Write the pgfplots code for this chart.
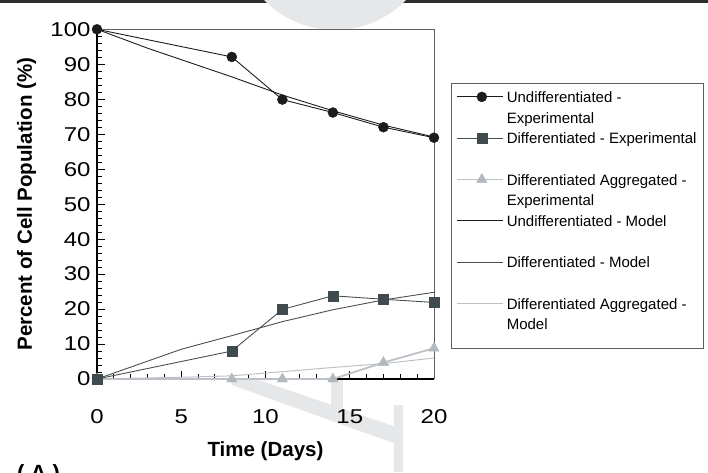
\documentclass[border=0pt]{standalone}
\usepackage{fontspec}
\setmainfont{Liberation Sans}
\newfontfamily\tickfont[FakeStretch=1.2]{Liberation Sans}
\usepackage{pgfplots}
\pgfplotsset{compat=1.18}

\definecolor{undiff}{HTML}{1C1C1C}
\definecolor{diffmk}{HTML}{3F4B4E}
\definecolor{diffln}{HTML}{4A4F51}
\definecolor{aggmk}{HTML}{B3B7BE}
\definecolor{aggln}{HTML}{BDC1C7}
\definecolor{frame}{HTML}{5E5E5E}
\definecolor{wmark}{HTML}{E6E7E9}
\definecolor{topbar}{HTML}{2E2E2E}

% struts giving every legend row the same height
\newcommand\lgs{\rule[-5pt]{0pt}{20.66pt}}
\newcommand\lgslast{\rule[-15pt]{0pt}{30.66pt}}

\begin{document}
\begin{tikzpicture}[x=1pt,y=1pt]
\useasboundingbox (0,0) rectangle (708,472);
\fill[topbar] (0,469) rectangle (708,472);

% faint background shapes
\fill[wmark] (335,541) circle (99);
\fill[wmark] (230,93) -- (256,93) -- (396,45) -- (396,28) -- (232,87) -- cycle;
\fill[wmark] (331,62) rectangle (343,93);
\fill[wmark] (394,0) rectangle (403,67);

\begin{axis}[
  at={(97pt,93pt)}, anchor=south west,
  scale only axis, width=337pt, height=349.7pt,
  xmin=0, xmax=20, ymin=0, ymax=100,
  clip=false,
  axis lines*=left,
  axis line style={black, line width=1.6pt},
  xtick={0,5,...,20}, ytick={0,10,...,100},
  minor x tick num=4, minor y tick num=4,
  tick align=inside,
  major tick length=8pt, minor tick length=5pt,
  tick style={black, line width=1pt},
  /pgf/number format/assume math mode=true,
  tick label style={font=\tickfont\fontsize{20}{22}\selectfont},
  xticklabel style={yshift=-27pt},
  yticklabel style={xshift=-3pt},
  xlabel={Time (Days)},
  ylabel={Percent of Cell Population (\%)},
  label style={font=\bfseries\fontsize{20.5}{24}\selectfont},
  xlabel style={at={(axis description cs:0.5,-0.2229)}, anchor=base},
  ylabel style={at={(axis description cs:-0.1929,0.5)}, anchor=base},
  legend cell align=left,
  legend style={
    at={(1.0504,0.8473)}, anchor=north west,
    draw=frame, line width=0.8pt, fill=white,
    font=\fontsize{15}{19}\selectfont,
    inner xsep=5pt, inner ysep=3.64pt,
    row sep=0pt, column sep=1.5pt,
    cells={anchor=base west},
    nodes={inner xsep=1.5pt, inner ysep=0pt, text depth=},
  },
  legend image code/.code={
    \path (0pt,5.5pt) -- (3.5pt,5.5pt);
    \draw[mark repeat=2,mark phase=2]
      plot coordinates {(3.5pt,5.5pt)(25pt,5.5pt)(46.5pt,5.5pt)};
  },
]

% upper and right frame lines
\draw[frame, line width=0.9pt] (rel axis cs:0,1) -- (rel axis cs:1,1) -- (rel axis cs:1,0);

% model curves
\addplot[forget plot, undiff, line width=0.9pt] coordinates {
  (0,100) (3,94.6) (8,86.4) (11,81.2) (14,76.7) (17,72.6) (20,69.2)};
\addplot[forget plot, diffln, line width=0.9pt] coordinates {
  (0,0) (5,8.5) (8,12.4) (11,16.4) (14,19.8) (17,22.6) (20,24.8)};
\addplot[forget plot, aggln, line width=1pt] coordinates {
  (0,0) (5,0.5) (8,0.9) (11,2.1) (14,3.3) (17,4.4) (20,6.0)};

% experimental data
\addplot[forget plot, aggln, line width=1.8pt, mark=triangle*, mark size=6pt,
  mark options={fill=aggmk, draw=aggmk, line width=0.4pt}] coordinates {
  (0,0) (8,0) (11,0) (14,0) (17,4.7) (20,8.8)};
\addplot[forget plot, diffln, line width=0.9pt, mark=square*, mark size=5pt,
  mark options={fill=diffmk, draw=diffmk, line width=0.4pt}] coordinates {
  (0,0) (8,8.0) (11,19.9) (14,23.8) (17,22.8) (20,21.9)};
\addplot[forget plot, undiff, line width=0.9pt, mark=*, mark size=5pt,
  mark options={fill=undiff, draw=undiff, line width=0.4pt}] coordinates {
  (0,100) (8,92.1) (11,79.9) (14,76.2) (17,72.0) (20,69.0)};

% legend rows
\addlegendimage{undiff, line width=0.9pt, mark=*, mark size=5pt,
  mark options={fill=undiff, draw=undiff, line width=0.4pt}}
\addlegendentry{\lgs Undifferentiated -}
\addlegendimage{empty legend}
\addlegendentry{\lgs Experimental}
\addlegendimage{diffln, line width=0.9pt, mark=square*, mark size=5pt,
  mark options={fill=diffmk, draw=diffmk, line width=0.4pt}}
\addlegendentry{\lgs Differentiated - Experimental}
\addlegendimage{empty legend}
\addlegendentry{\lgs}
\addlegendimage{aggln, line width=0.9pt, mark=triangle*, mark size=6pt,
  mark options={fill=aggmk, draw=aggmk, line width=0.4pt}}
\addlegendentry{\lgs Differentiated Aggregated -}
\addlegendimage{empty legend}
\addlegendentry{\lgs Experimental}
\addlegendimage{undiff, line width=0.9pt}
\addlegendentry{\lgs Undifferentiated - Model}
\addlegendimage{empty legend}
\addlegendentry{\lgs}
\addlegendimage{diffln, line width=0.9pt}
\addlegendentry{\lgs Differentiated - Model}
\addlegendimage{empty legend}
\addlegendentry{\lgs}
\addlegendimage{aggln, line width=0.9pt}
\addlegendentry{\lgs Differentiated Aggregated -}
\addlegendimage{empty legend}
\addlegendentry{\lgslast Model}
\end{axis}

\node[anchor=base west, font=\bfseries\fontsize{22}{26}\selectfont, inner sep=0pt]
  at (17,-8.5) {( A )};
\end{tikzpicture}
\end{document}
